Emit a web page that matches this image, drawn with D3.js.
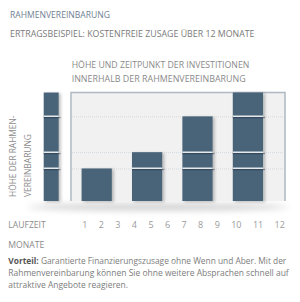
<!DOCTYPE html>
<html>
<head>
<meta charset="utf-8">
<script src="https://cdn.jsdelivr.net/npm/d3@7"></script>
<style>
  body { margin:0; background:#fff; }
  svg { display:block; font-family:"Liberation Sans Narrow","Open Sans",sans-serif; }
</style>
</head>
<body>
<svg width="300" height="302"></svg>
<script>
// data
var months = [1,2,3,4,5,6,7,8,9,10,11,12];
var investMonths = [2,5,8,11];
var investAmounts = [30,15,33,22];   // share of the Rahmen (in %)
var frameTotal = 100;

var titleText = "RAHMENVEREINBARUNG";
var subtitleText = "ERTRAGSBEISPIEL: KOSTENFREIE ZUSAGE ÜBER 12 MONATE";
var chartTitle = ["HÖHE UND ZEITPUNKT DER INVESTITIONEN","INNERHALB DER RAHMENVEREINBARUNG"];
var yLabel = ["HÖHE DER RAHMEN-","VEREINBARUNG"];
var xLabel = ["LAUFZEIT","MONATE"];
var noteBold = "Vorteil:";
var noteLines = [" Garantierte Finanzierungszusage ohne Wenn und Aber. Mit der",
                 "Rahmenvereinbarung können Sie ohne weitere Absprachen schnell auf",
                 "attraktive Angebote reagieren."];

var barColor = '#4a6479';

const svg = d3.select('svg');

// cumulative segments
var segs = [];
var acc = 0;
investAmounts.forEach(function(a,i){
    segs.push({i:i, y0:acc, y1:acc+a});
    acc += a;
});

// scales
var x = d3.scaleLinear().domain([0.5,12.5]).range([71.5,273.1]);
var y = d3.scaleLinear().domain([0,frameTotal]).range([201,92.5]);

// filters
var defs = svg.append('defs');
var sh = defs.append('filter').attr('id','bshadow')
    .attr('x','-30%').attr('y','-30%').attr('width','160%').attr('height','160%');
sh.append('feDropShadow').attr('dx',2).attr('dy',1).attr('stdDeviation',1.5)
    .attr('flood-color','#000').attr('flood-opacity',0.25);
var blur = defs.append('filter').attr('id','blur')
    .attr('x','-20%').attr('y','-200%').attr('width','140%').attr('height','500%');
blur.append('feGaussianBlur').attr('stdDeviation',3);
var lblur = defs.append('filter').attr('id','lblur').attr('filterUnits','userSpaceOnUse')
    .attr('x',0).attr('y',0).attr('width',300).attr('height',302);
lblur.append('feGaussianBlur').attr('stdDeviation',0.7);

// titles
svg.append('text').attr('x',10).attr('y',18.3).text(titleText)
    .attr('font-size',8.2).attr('fill','#6f8293')
    .attr('textLength',100).attr('lengthAdjust','spacingAndGlyphs');
svg.append('text').attr('x',10).attr('y',36.7).text(subtitleText)
    .attr('font-size',8.2).attr('fill','#7a7a7a')
    .attr('textLength',244.5).attr('lengthAdjust','spacingAndGlyphs');

var ctLen = [177.6,174];
svg.selectAll('.ct').data(chartTitle).enter().append('text')
    .attr('x',71.7).attr('y',function(d,i){ return 68.4 + i*13.4; })
    .text(function(d){ return d; })
    .attr('font-size',8.2).attr('fill','#8a8a8a')
    .attr('textLength',function(d,i){ return ctLen[i]; })
    .attr('lengthAdjust','spacingAndGlyphs');

// soft shadow under chart
svg.append('ellipse').attr('cx',158).attr('cy',207).attr('rx',130).attr('ry',3.5)
    .attr('fill','#9a9a9a').attr('opacity',0.45).attr('filter','url(#blur)');

// frame
svg.append('rect').attr('x',71).attr('y',y(frameTotal))
    .attr('width',214).attr('height',y(0)-y(frameTotal))
    .attr('fill','#f1f1f1');
svg.append('path')
    .attr('d',`M 71 ${y(0)} L 71 ${y(frameTotal)} L 285 ${y(frameTotal)} L 285 ${y(0)}`)
    .attr('fill','none').attr('stroke','#aeb9c2').attr('stroke-width',1.5);

// dotted grid at cumulative levels
svg.selectAll('.grid').data(segs.slice(0,-1)).enter().append('line')
    .attr('x1',72).attr('x2',284)
    .attr('y1',function(d){ return y(d.y1)+0.5; })
    .attr('y2',function(d){ return y(d.y1)+0.5; })
    .attr('stroke','#d3d9de').attr('stroke-width',1)
    .attr('stroke-dasharray','1,1');

// one stacked column: solid block + light separators at the inner levels
function column(x0,w,n){
    var g = svg.append('g');
    var top = segs[n-1].y1;
    g.append('rect').attr('x',x0).attr('width',w)
        .attr('y',y(top)).attr('height',y(0)-y(top))
        .attr('fill',barColor).attr('filter','url(#bshadow)');
    var inner = segs.slice(0,n-1);
    g.selectAll('rect.sd').data(inner).enter().append('rect').attr('class','sd')
        .attr('x',x0).attr('width',w+2)
        .attr('y',function(d){ return Math.round(y(d.y1))+1; })
        .attr('height',1.2)
        .attr('fill','#1e2a33').attr('fill-opacity',0.4)
        .attr('filter','url(#lblur)');
    g.selectAll('rect.sp').data(inner).enter().append('rect').attr('class','sp')
        .attr('x',x0).attr('width',w)
        .attr('y',function(d){ return Math.round(y(d.y1)) - 0.5; })
        .attr('height',1.5)
        .attr('fill','#e6eaee');
}

// left column: total frame
column(43.7,15,segs.length);

// investment bars (cumulative)
var bw = x(1.8)-x(0);
investMonths.forEach(function(m,k){
    column(x(m)-bw/2,bw,k+1);
});

// y label (rotated)
var ylLen = [81.5,63];
svg.selectAll('.yl').data(yLabel).enter().append('text')
    .attr('transform',function(d,i){ return `translate(${15.6+i*15.6},197) rotate(-90)`; })
    .text(function(d){ return d; })
    .attr('font-size',8.2).attr('fill','#8d8d8d')
    .attr('textLength',function(d,i){ return ylLen[i]; })
    .attr('lengthAdjust','spacingAndGlyphs');

// x label
var xlLen = [37.4,36];
svg.selectAll('.xl').data(xLabel).enter().append('text')
    .attr('x',8.3).attr('y',function(d,i){ return 227.8 + i*20; })
    .text(function(d){ return d; })
    .attr('font-size',8.4).attr('fill','#8d8d8d')
    .attr('textLength',function(d,i){ return xlLen[i]; })
    .attr('lengthAdjust','spacingAndGlyphs');

// month labels, laid out one after another with a fixed gap
var mg = svg.append('g');
var cx = 82.2;
months.forEach(function(m){
    var t = mg.append('text').attr('x',cx).attr('y',228.2).text(m)
        .attr('font-size',9).attr('fill','#9a9a9a')
        .attr('font-family','"Open Sans",sans-serif');
    var w = t.node().getComputedTextLength();
    cx += w + 11.4;
});

// note
var nLen = [278,280.4,119.7];
var note = svg.append('g');
noteLines.forEach(function(line,i){
    var t = note.append('text').attr('x',8.3).attr('y',264.3 + i*11.6)
        .attr('font-size',8.6).attr('fill','#7c7c7c')
        .attr('textLength',nLen[i]).attr('lengthAdjust','spacingAndGlyphs');
    if(i==0)
        t.append('tspan').attr('font-weight','bold').attr('fill','#555').text(noteBold);
    t.append('tspan').text(line);
});
</script>
</body>
</html>
